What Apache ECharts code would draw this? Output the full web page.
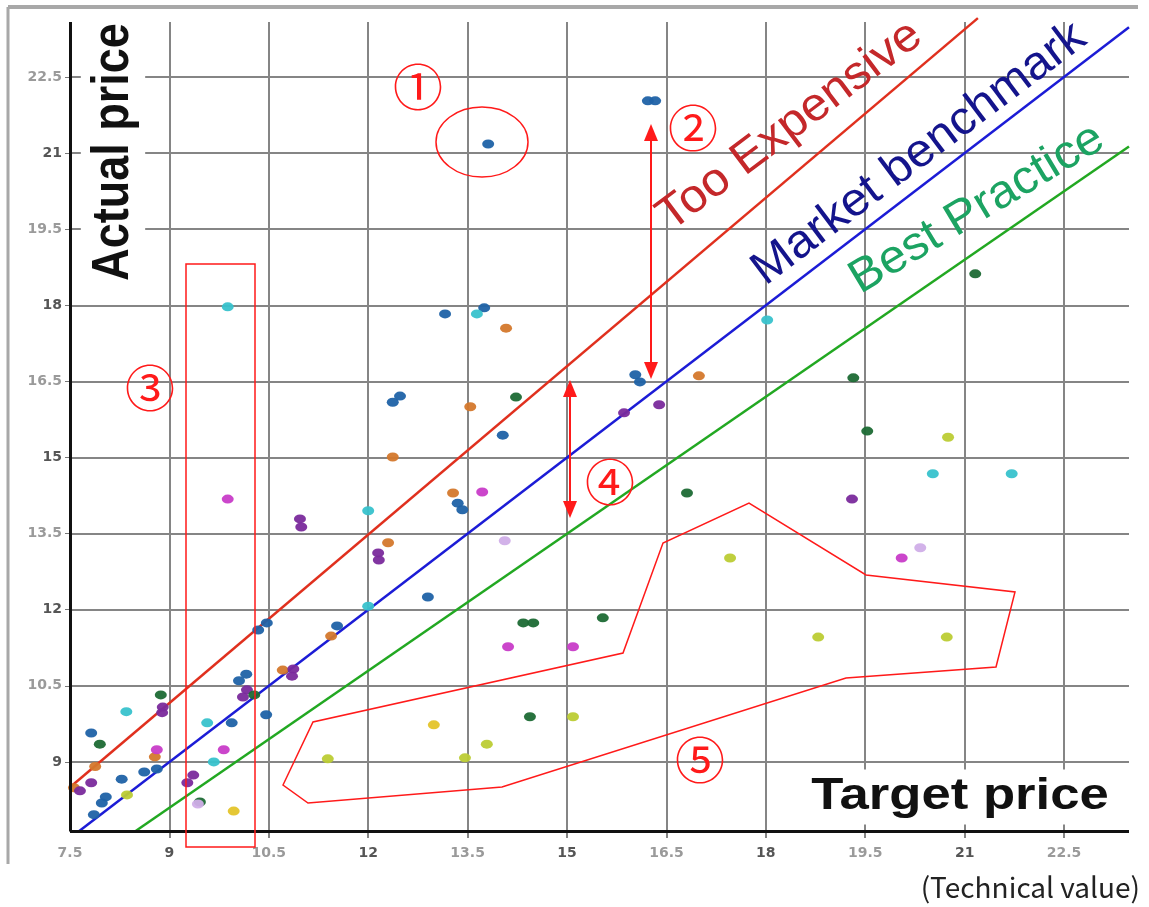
<!DOCTYPE html>
<html>
<head>
<meta charset="utf-8">
<script src="https://cdn.jsdelivr.net/npm/echarts@6/dist/echarts.min.js"></script>
<style>
  html, body { margin: 0; padding: 0; background: #fff; }
  #chart { width: 1149px; height: 907px; }
</style>
</head>
<body>
<div id="chart"></div>
<script>
// Data: [target price, actual price]
const blueDots = [
  [7.82, 9.57], [8.04, 8.31], [7.98, 8.19], [7.86, 7.96], [8.28, 8.66], [8.62, 8.80],
  [8.81, 8.86], [9.94, 9.77], [10.05, 10.60], [10.16, 10.73], [10.34, 11.60], [10.47, 11.74],
  [10.46, 9.93], [11.53, 11.68], [12.37, 16.09], [12.48, 16.21], [13.16, 17.83], [13.75, 17.95],
  [14.03, 15.44], [13.35, 14.10], [13.42, 13.97], [12.90, 12.25], [13.81, 21.18], [16.22, 22.03],
  [16.33, 22.03], [16.03, 16.63], [16.10, 16.49]
];
const tealDots = [
  [8.35, 9.99], [9.57, 9.77], [9.67, 9.00], [9.88, 17.97], [12.0, 12.07], [12.0, 13.95],
  [13.64, 17.83], [18.02, 17.71], [20.52, 14.68], [21.71, 14.68]
];
const orangeDots = [
  [7.56, 8.49], [7.88, 8.91], [8.78, 9.10], [10.71, 10.81], [11.44, 11.48], [12.37, 15.01],
  [12.30, 13.32], [13.54, 16.0], [14.08, 17.55], [13.28, 14.30], [16.99, 16.61]
];
const purpleDots = [
  [7.65, 8.43], [7.82, 8.59], [8.90, 10.08], [8.89, 9.97], [9.27, 8.59], [9.36, 8.74],
  [10.17, 10.42], [10.11, 10.28], [10.87, 10.83], [10.85, 10.69], [10.97, 13.79], [10.99, 13.63],
  [12.15, 13.12], [12.16, 12.98], [15.86, 15.88], [16.39, 16.04], [19.30, 14.18]
];
const magentaDots = [
  [8.81, 9.24], [9.82, 9.24], [9.88, 14.18], [13.72, 14.32], [14.11, 11.27], [15.09, 11.27],
  [20.05, 13.02]
];
const darkGreenDots = [
  [7.95, 9.35], [8.87, 10.32], [9.46, 8.21], [10.28, 10.32], [14.23, 16.19], [14.34, 11.74],
  [14.49, 11.74], [15.54, 11.84], [14.44, 9.89], [16.81, 14.30], [19.32, 16.57], [19.53, 15.52],
  [21.16, 18.62]
];
const limeDots = [
  [8.36, 8.35], [11.39, 9.06], [13.79, 9.35], [13.46, 9.08], [15.09, 9.89], [17.46, 13.02],
  [18.79, 11.46], [20.73, 11.46], [20.75, 15.40]
];
const yellowDots = [[9.97, 8.03], [12.99, 9.73]];
const lilacDots = [[9.43, 8.17], [14.06, 13.36], [20.33, 13.22]];

// Reference lines (end points)
const tooExpensiveLine = [[7.5, 8.5], [21.2, 23.66]];
const benchmarkLine = [[7.63, 7.63], [23.48, 23.48]];
const bestPracticeLine = [[8.48, 7.63], [23.48, 21.13]];

const xMin = 7.5, xMax = 23.48, yMin = 7.5, yMax = 23.584, step = 1.5;
const axisBase = 7.63; // where the drawn x axis line sits

const chart = echarts.init(document.getElementById('chart'));

const tickLabel = {
  formatter: v => (Number.isInteger(v) ? '{d|' : '{l|') + v + '}',
  rich: {
    d: { color: '#555', fontWeight: 'bold', fontSize: 14, fontFamily: 'DejaVu Sans' },
    l: { color: '#9a9a9a', fontWeight: 'bold', fontSize: 14, fontFamily: 'DejaVu Sans' }
  }
};

function dots(name, color, data, size) {
  return {
    name: name,
    type: 'scatter',
    data: data,
    symbol: 'circle',
    symbolSize: size || [12, 9],
    itemStyle: { color: color, opacity: 0.95 },
    z: 3
  };
}

function refLine(name, color, data) {
  return {
    name: name,
    type: 'line',
    data: data,
    symbol: 'none',
    clip: false,
    lineStyle: { color: color, width: 2.5 },
    z: 2
  };
}

const axisLines = {
  silent: true,
  symbol: ['none', 'none'],
  label: { show: false },
  lineStyle: { color: '#111', width: 3, type: 'solid' },
  data: [
    [{ coord: [xMin, axisBase] }, { coord: [xMin, yMax] }],
    [{ coord: [xMin, axisBase] }, { coord: [xMax, axisBase] }]
  ]
};

const red = '#ff1a1a';
function arrow(x, y1, y2) {
  return [
    { type: 'line', z: 100, shape: { x1: x, y1: y1 + 14, x2: x, y2: y2 - 14 }, style: { stroke: red, lineWidth: 2 } },
    { type: 'polygon', z: 100, shape: { points: [[x, y1], [x - 7, y1 + 17], [x + 7, y1 + 17]] }, style: { fill: red } },
    { type: 'polygon', z: 100, shape: { points: [[x, y2], [x - 7, y2 - 17], [x + 7, y2 - 17]] }, style: { fill: red } }
  ];
}
function circled(txt, x, y) {
  return {
    type: 'text', z: 100, x: x, y: y,
    style: { text: txt, fill: red, font: '50px "Noto Sans CJK JP"', align: 'center', verticalAlign: 'middle' }
  };
}
const deg = Math.PI / 180;

const option = {
  backgroundColor: '#fff',
  animation: false,
  grid: { left: 70, right: 20, top: 22, bottom: 69 },
  xAxis: {
    type: 'value',
    min: xMin, max: xMax, interval: step,
    axisLine: { show: false },
    axisTick: { show: false },
    axisLabel: Object.assign({ margin: 8, showMaxLabel: false }, tickLabel),
    splitLine: { show: true, showMinLine: false, showMaxLine: false, lineStyle: { color: '#858585', width: 2 } }
  },
  yAxis: {
    type: 'value',
    min: yMin, max: yMax, interval: step,
    axisLine: { show: false },
    axisTick: { show: true, length: 5, lineStyle: { color: '#777' } },
    axisLabel: Object.assign({ margin: 8, showMinLabel: false, showMaxLabel: false }, tickLabel),
    splitLine: { show: true, showMinLine: false, showMaxLine: false, lineStyle: { color: '#858585', width: 2 } }
  },
  series: [
    Object.assign(refLine('Market benchmark', '#1c1cd6', benchmarkLine), { markLine: axisLines }),
    refLine('Too Expensive', '#e0301e', tooExpensiveLine),
    refLine('Best Practice', '#22a822', bestPracticeLine),
    dots('blue', '#1f62a6', blueDots),
    dots('teal', '#38c2cc', tealDots),
    dots('orange', '#d4782c', orangeDots),
    dots('purple', '#7a2a9c', purpleDots),
    dots('magenta', '#c83cc8', magentaDots),
    dots('darkgreen', '#1c6a34', darkGreenDots),
    dots('lime', '#bccc34', limeDots),
    dots('yellow', '#e4c42a', yellowDots),
    dots('lilac', '#d0aee8', lilacDots)
  ],
  graphic: [
    // outer frame
    { type: 'line', z: 50, shape: { x1: 8, y1: 7, x2: 1138, y2: 7 }, style: { stroke: '#a8a8a8', lineWidth: 4 } },
    { type: 'line', z: 50, shape: { x1: 8, y1: 7, x2: 8, y2: 864 }, style: { stroke: '#a8a8a8', lineWidth: 3 } },
    // axis titles
    {
      type: 'text', z: 90, x: 113, y: 152, rotation: 90 * deg, scaleY: 1.17,
      style: {
        text: 'Actual price', fill: '#111', font: 'bold 45px "Liberation Sans"',
        align: 'center', verticalAlign: 'middle', backgroundColor: '#fff', padding: [6, 6, 4, 6]
      }
    },
    {
      type: 'text', z: 90, x: 960, y: 797, scaleX: 1.17,
      style: {
        text: 'Target price', fill: '#111', font: 'bold 45px "Liberation Sans"',
        align: 'center', verticalAlign: 'middle', backgroundColor: '#fff', padding: [6, 8, 4, 8]
      }
    },
    {
      type: 'text', z: 90, x: 1140, y: 887,
      style: { text: '(Technical value)', fill: '#222', font: '28px "Noto Sans CJK JP"', align: 'right', verticalAlign: 'middle' }
    },
    // line labels
    {
      type: 'text', z: 90, x: 790, y: 126, rotation: 37 * deg, scaleX: 1.04,
      style: { text: 'Too Expensive', fill: '#c4282a', font: '47px "Liberation Sans"', align: 'center', verticalAlign: 'middle' }
    },
    {
      type: 'text', z: 90, x: 919, y: 154, rotation: 37 * deg, scaleX: 1.04,
      style: { text: 'Market benchmark', fill: '#14148c', font: '47px "Liberation Sans"', align: 'center', verticalAlign: 'middle' }
    },
    {
      type: 'text', z: 90, x: 977, y: 209, rotation: 31 * deg, scaleX: 1.04,
      style: { text: 'Best Practice', fill: '#1ca362', font: '47px "Liberation Sans"', align: 'center', verticalAlign: 'middle' }
    },
    // annotations
    circled('①', 418, 87),
    circled('②', 693, 128),
    circled('③', 150, 388),
    circled('④', 610, 482),
    circled('⑤', 700, 760),
    { type: 'ellipse', z: 100, shape: { cx: 482, cy: 142, rx: 46, ry: 35 }, style: { fill: null, stroke: red, lineWidth: 1.5 } },
    { type: 'rect', z: 100, shape: { x: 186, y: 264, width: 69, height: 583 }, style: { fill: null, stroke: red, lineWidth: 1.5 } },
    {
      type: 'polygon', z: 100,
      shape: { points: [[283, 785], [313, 722], [623, 653], [663, 543], [749, 503], [866, 575], [1015, 592], [996, 667], [846, 678], [502, 787], [308, 803]] },
      style: { fill: null, stroke: red, lineWidth: 1.5 }
    }
  ].concat(arrow(651, 124, 379), arrow(570, 380, 518))
};

chart.setOption(option);
</script>
</body>
</html>
